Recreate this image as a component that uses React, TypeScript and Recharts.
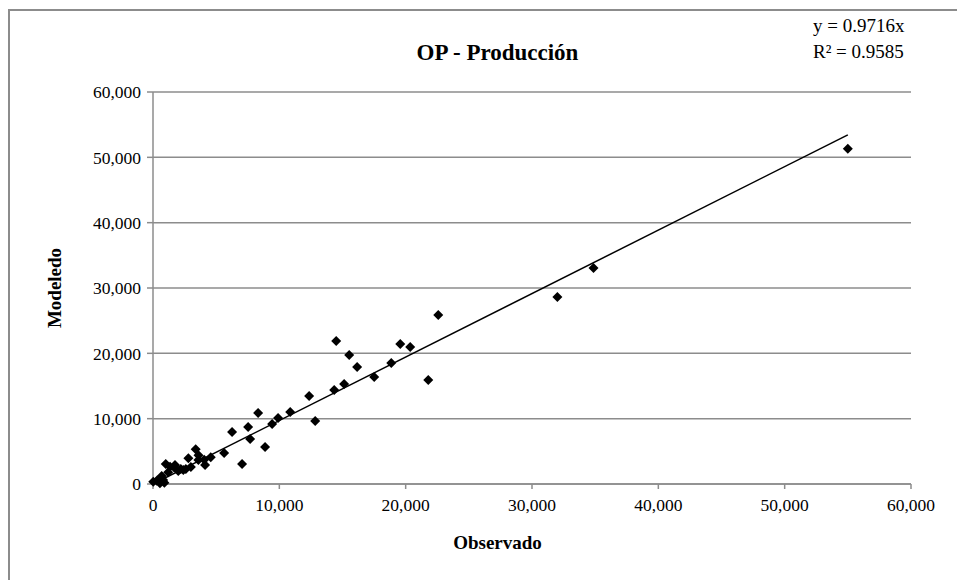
import React from 'react';
import { ScatterChart, Scatter, XAxis, YAxis, CartesianGrid, ReferenceLine } from 'recharts';

const observado = [
  55000, 34870, 32010, 22580, 14500, 19570, 20360, 15530, 16160, 17510,
  18860, 21790, 15130, 14340, 12360, 10860, 12840, 8320, 9900, 9430,
  8870, 7530, 7690, 6260, 7050, 5630, 4570, 3380, 2800, 3590,
  4120, 1010, 1350, 1740, 2400, 2000, 690, 420, 20, 550,
  1660, 3600, 2600, 300, 800, 1200, 2200, 3000, 4050, 900,
];
const modelado = [
  51300, 33080, 28640, 25880, 21900, 21440, 20980, 19750, 17920, 16390,
  18530, 15930, 15310, 14400, 13480, 11030, 9650, 10870, 10110, 9190,
  5670, 8730, 6890, 7960, 3060, 4750, 4090, 5310, 3940, 3680,
  2910, 3060, 2650, 2910, 2140, 1990, 1230, 610, 350, 110,
  2560, 4400, 2300, 500, 600, 1800, 2300, 2600, 3700, 200,
];
const ticks = [0, 10000, 20000, 30000, 40000, 50000, 60000];
const slope = 0.9716;
const r2 = 0.9585;

const points = observado.map((x, i) => ({ x, y: modelado[i] }));
const xMax = Math.max(...observado);

const fmt = (v: number) => v.toLocaleString('en-US');
const font = '"Liberation Serif", "Times New Roman", serif';

const Diamond = (props: any) => {
  const { cx, cy } = props;
  const r = 5;
  return <path d={`M${cx},${cy - r}L${cx + r},${cy}L${cx},${cy + r}L${cx - r},${cy}Z`} fill="#000" />;
};

export default function App() {
  return (
    <div style={{ position: 'absolute', left: 0, top: 0, width: 957, height: 580, overflow: 'hidden', background: '#fff', fontFamily: font }}>
      <div style={{ position: 'absolute', left: 8, top: 9, width: 1000, height: 1000, border: '2px solid #8c8c8c' }} />
      <div style={{ position: 'absolute', left: 0, width: 957, top: 39, textAlign: 'center', fontSize: 23, lineHeight: '28px', fontWeight: 'bold', paddingLeft: 38, boxSizing: 'border-box' }}>
        OP - Producción
      </div>
      <div style={{ position: 'absolute', left: 813, top: 13, fontSize: 19, lineHeight: '26px' }}>
        <div>y = {slope}x</div>
        <div>R² = {r2}</div>
      </div>
      <div style={{ position: 'absolute', left: 0, width: 957, top: 531, textAlign: 'center', fontSize: 19, lineHeight: '24px', fontWeight: 'bold', paddingLeft: 38, boxSizing: 'border-box' }}>
        Observado
      </div>
      <div style={{ position: 'absolute', left: 55, top: 288, transform: 'translate(-50%, -50%) rotate(-90deg)', fontSize: 19, fontWeight: 'bold', whiteSpace: 'nowrap' }}>
        Modeledo
      </div>
      <div style={{ position: 'absolute', left: 0, top: 0 }}>
        <ScatterChart width={957} height={580} margin={{ top: 92, right: 46, left: 73, bottom: 66 }}>
          <CartesianGrid horizontal vertical={false} stroke="#8c8c8c" strokeWidth={1.5} />
          <XAxis
            type="number"
            dataKey="x"
            domain={[0, 60000]}
            ticks={ticks}
            tickFormatter={fmt}
            height={30}
            stroke="#8c8c8c"
            strokeWidth={1.5}
            tickSize={5}
            tickMargin={10}
            tick={{ fill: '#000', fontSize: 17.5, fontFamily: font }}
            interval={0}
          />
          <YAxis
            type="number"
            dataKey="y"
            domain={[0, 60000]}
            ticks={ticks}
            tickFormatter={fmt}
            width={80}
            stroke="#8c8c8c"
            strokeWidth={1.5}
            tickSize={6}
            tickMargin={6}
            tick={{ fill: '#000', fontSize: 17.5, fontFamily: font }}
            interval={0}
          />
          <ReferenceLine
            segment={[{ x: 0, y: 0 }, { x: xMax, y: xMax * slope }]}
            stroke="#000"
            strokeWidth={1.5}
            ifOverflow="visible"
          />
          <Scatter data={points} shape={Diamond} isAnimationActive={false} />
        </ScatterChart>
      </div>
    </div>
  );
}
